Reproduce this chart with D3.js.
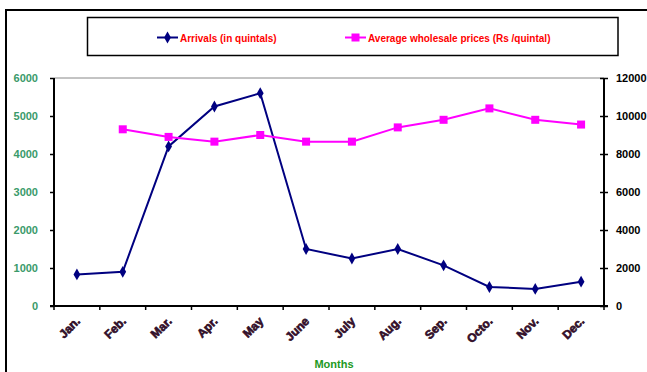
<!DOCTYPE html>
<html><head><meta charset="utf-8">
<script src="https://cdn.jsdelivr.net/npm/d3@7"></script>
<style>body{margin:0;background:#fff}svg{display:block}text{font-family:"Liberation Sans",Arial,sans-serif;font-weight:bold}</style>
</head><body><svg id="c" width="647" height="372"></svg>
<script>
const months = ["Jan.","Feb.","Mar.","Apr.","May","June","July","Aug.","Sep.","Octo.","Nov.","Dec."];
const arrivals = [830,900,4200,5250,5600,1500,1250,1500,1070,500,450,640];
const prices = [null,9300,8900,8650,9000,8650,8650,9400,9800,10400,9800,9550];
const leftTicks = [0,1000,2000,3000,4000,5000,6000];
const rightTicks = [0,2000,4000,6000,8000,10000,12000];

const svg = d3.select("#c");
const L=54, R=604, T=78, B=306;
const x = d3.scaleBand().domain(months).range([L,R]);
const yL = d3.scaleLinear().domain([0,6000]).range([B,T]);
const yR = d3.scaleLinear().domain([0,12000]).range([B,T]);

// outer frame
svg.append("rect").attr("x",6).attr("y",10).attr("width",660).attr("height",380)
  .attr("fill","none").attr("stroke","#000").attr("stroke-width",2);
// legend box
svg.append("rect").attr("x",87.5).attr("y",17.5).attr("width",530.5).attr("height",38)
  .attr("fill","none").attr("stroke","#000").attr("stroke-width",1.5);

// top grid line
svg.append("line").attr("x1",L).attr("x2",R).attr("y1",T).attr("y2",T).attr("stroke","#888").attr("stroke-width",1);

// left axis
const gl = svg.append("g").attr("transform",`translate(${L},0)`)
  .call(d3.axisLeft(yL).tickValues(leftTicks).tickSize(4).tickPadding(12).tickFormat(d3.format("d")));
gl.select(".domain").attr("stroke","#000").attr("stroke-width",2).attr("d",`M0,${T}V${B}`);
gl.selectAll(".tick line").attr("stroke","#000").attr("stroke-width",1.5);
gl.selectAll(".tick text").attr("fill","#3a9a6a").attr("font-size",11).attr("font-family","Liberation Sans, Arial").attr("font-weight","bold");

// right axis
const gr = svg.append("g").attr("transform",`translate(${R},0)`)
  .call(d3.axisRight(yR).tickValues(rightTicks).tickSize(4).tickPadding(8).tickFormat(d3.format("d")));
gr.select(".domain").attr("stroke","#000").attr("stroke-width",2).attr("d",`M0,${T}V${B}`);
gr.selectAll(".tick line").attr("stroke","#000").attr("stroke-width",1.5).attr("x1",-4);
gr.selectAll(".tick text").attr("fill","#000").attr("font-size",11).attr("font-family","Liberation Sans, Arial").attr("font-weight","bold");

// bottom axis
const gb = svg.append("g").attr("transform",`translate(0,${B})`);
gb.append("line").attr("x1",L-4).attr("x2",R+4).attr("stroke","#000").attr("stroke-width",2);
const bounds = months.map(m=>x(m)).concat([R]);
gb.selectAll("line.tk").data(bounds).join("line").attr("class","tk")
  .attr("x1",d=>d).attr("x2",d=>d).attr("y1",0).attr("y2",4).attr("stroke","#000").attr("stroke-width",1.5);
gb.selectAll("text").data(months).join("text")
  .attr("transform",d=>`translate(${x(d)+x.bandwidth()/2+4},${16}) rotate(-45)`)
  .attr("text-anchor","end").attr("font-size",12).attr("fill","#3a1030")
  .attr("stroke","#2a0a20").attr("stroke-width",0.6)
  .text(d=>d);

// lines
const cx = d=>x(d)+x.bandwidth()/2;
const lineA = d3.line().x((d,i)=>cx(months[i])).y(d=>yL(d));
svg.append("path").datum(arrivals).attr("d",lineA).attr("fill","none").attr("stroke","#000080").attr("stroke-width",2);
const lineP = d3.line().defined(d=>d!=null).x((d,i)=>cx(months[i])).y(d=>yR(d));
svg.append("path").datum(prices).attr("d",lineP).attr("fill","none").attr("stroke","#ff00ff").attr("stroke-width",2);

const diamond = d3.symbol().type(d3.symbolDiamond).size(40);
svg.selectAll("path.ma").data(arrivals).join("path").attr("class","ma")
  .attr("d",diamond).attr("transform",(d,i)=>`translate(${cx(months[i])},${yL(d)})`).attr("fill","#000080");
svg.selectAll("rect.mp").data(prices.map((v,i)=>({v,m:months[i]})).filter(d=>d.v!=null)).join("rect").attr("class","mp")
  .attr("x",d=>cx(d.m)-4).attr("y",d=>yR(d.v)-4).attr("width",8).attr("height",8).attr("fill","#ff00ff");

// legend
const lg = svg.append("g");
lg.append("line").attr("x1",157).attr("x2",178).attr("y1",37.5).attr("y2",37.5).attr("stroke","#000080").attr("stroke-width",2);
lg.append("path").attr("d",diamond).attr("transform","translate(167.5,37.5)").attr("fill","#000080");
lg.append("text").attr("x",180).attr("y",41.5).attr("font-size",10).attr("fill","#ff0000").text("Arrivals (in quintals)");
lg.append("line").attr("x1",345).attr("x2",366).attr("y1",37.5).attr("y2",37.5).attr("stroke","#ff00ff").attr("stroke-width",2);
lg.append("rect").attr("x",351.5).attr("y",33.5).attr("width",8).attr("height",8).attr("fill","#ff00ff");
lg.append("text").attr("x",368).attr("y",41.5).attr("font-size",10).attr("fill","#ff0000").text("Average wholesale prices (Rs /quintal)");

// x title
svg.append("text").attr("x",334).attr("y",368).attr("text-anchor","middle").attr("font-size",11).attr("fill","#229922").text("Months");
</script></body></html>
